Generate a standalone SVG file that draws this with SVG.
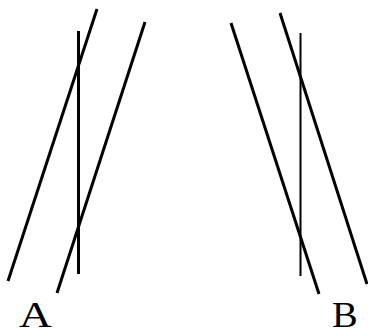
<svg xmlns="http://www.w3.org/2000/svg" width="368" height="335" viewBox="0 0 368 335">
<style>
.l{stroke:#000;stroke-width:3;fill:none}
.v{stroke:#000;fill:none}
.t{font-family:"Liberation Serif",serif;font-size:35px;fill:#000}
</style>
<rect width="368" height="335" fill="#fff"/>
<g id="groupA">
<line class="v" x1="78.5" y1="31" x2="78.5" y2="274" stroke-width="3"/>
<line class="l" x1="97" y1="9" x2="8" y2="281"/>
<line class="l" x1="145" y1="22" x2="57" y2="293"/>
<text class="t" transform="translate(19 327) scale(1.3 1)">A</text>
</g>
<g id="groupB">
<line class="v" x1="300.5" y1="33" x2="300.5" y2="276" stroke-width="2"/>
<line class="l" x1="231" y1="23" x2="319" y2="294"/>
<line class="l" x1="280" y1="13" x2="367" y2="284"/>
<text class="t" transform="translate(332 327) scale(1.1 1)">B</text>
</g>
</svg>
